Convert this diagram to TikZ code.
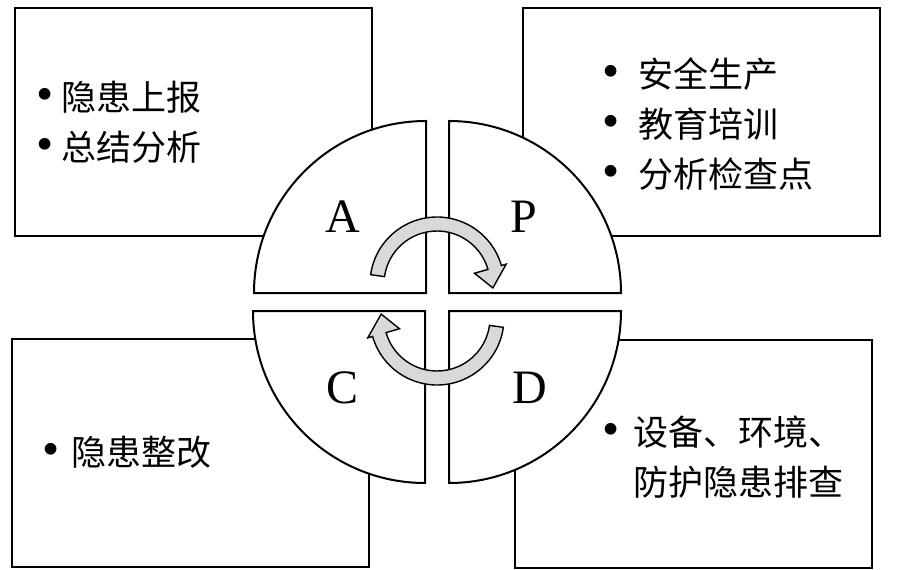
\documentclass[tikz,border=0pt]{standalone}
\usepackage{fontspec}
\setmainfont{Liberation Serif}
\newfontfamily\cjk{Noto Sans CJK SC}
\usetikzlibrary{positioning}
\definecolor{arrowgray}{RGB}{217,217,217}
\newcommand{\blist}[2]{\begin{tabular}{@{}l@{\hspace{#1}}l@{}}#2\end{tabular}}
\newcommand{\bul}{{\rmfamily\scalebox{1.4}{\textbullet}}}

\begin{document}
\begin{tikzpicture}[x=1pt, y=1pt, line width=2pt,
    box/.style = {draw, rectangle, minimum width=357pt, minimum height=228pt},
    part/.style = {draw, fill=white},
    turn/.style = {draw, fill=arrowgray, line width=1.4pt},
    lbl/.style = {font=\fontsize{48}{48}\selectfont, inner sep=0pt},
    txt/.style = {anchor=west, inner sep=0pt, font=\cjk\fontsize{35}{50}\selectfont}]
    \useasboundingbox (0,0) rectangle (900,-570);

    \node[box] (boxA) at (193.5,-122) {};
    \node[box] (boxP) at (701,-121.5) {};
    \node[box] (boxC) at (190,-453) {};
    \node[box] (boxD) at (693.5,-453.5) {};

    \draw[part] (426,-293) -- ++(-172,0) arc[start angle=180, end angle=90, radius=172] -- cycle;
    \draw[part] (449,-293) -- ++(0,172) arc[start angle=90, end angle=0, radius=172] -- cycle;
    \draw[part] (425,-311) -- ++(-172,0) arc[start angle=180, end angle=270, radius=172] -- cycle;
    \draw[part] (449,-311) -- ++(172,0) arc[start angle=0, end angle=-90, radius=172] -- cycle;

    \node[lbl] (A) at (343,-217) {A};
    \node[lbl] (P) at (524,-217) {P};
    \node[lbl] (C) at (343,-388) {C};
    \node[lbl] (D) at (530,-388) {D};

    \coordinate (top) at (437,-284);
    \coordinate (bot) at (437,-318);
    \draw[turn] ([shift={(172:67)}]top) arc[start angle=172, end angle=16, radius=67]
        -- ([shift={(16:72)}]top) -- ([shift={(-4:56)}]top) -- ([shift={(16:39)}]top)
        -- ([shift={(16:53)}]top) arc[start angle=16, end angle=172, radius=53] -- cycle;
    \draw[turn] ([shift={(-8:67)}]bot) arc[start angle=-8, end angle=-164, radius=67]
        -- ([shift={(-164:72)}]bot) -- ([shift={(-184:56)}]bot) -- ([shift={(-164:39)}]bot)
        -- ([shift={(-164:53)}]bot) arc[start angle=-164, end angle=-8, radius=53] -- cycle;

    \node[txt] (txtA) at (35,-125) {\blist{8pt}{\bul & 隐患上报\\ \bul & 总结分析}};
    \node[txt] (txtP) at (601,-127) {\blist{19pt}{\bul & 安全生产\\ \bul & 教育培训\\ \bul & 分析检查点}};
    \node[txt] (txtC) at (41,-455) {\blist{12pt}{\bul & 隐患整改}};
    \node[txt] (txtD) at (601,-460) {\blist{14pt}{\bul & 设备、环境、\\ & 防护隐患排查}};
\end{tikzpicture}
\end{document}
